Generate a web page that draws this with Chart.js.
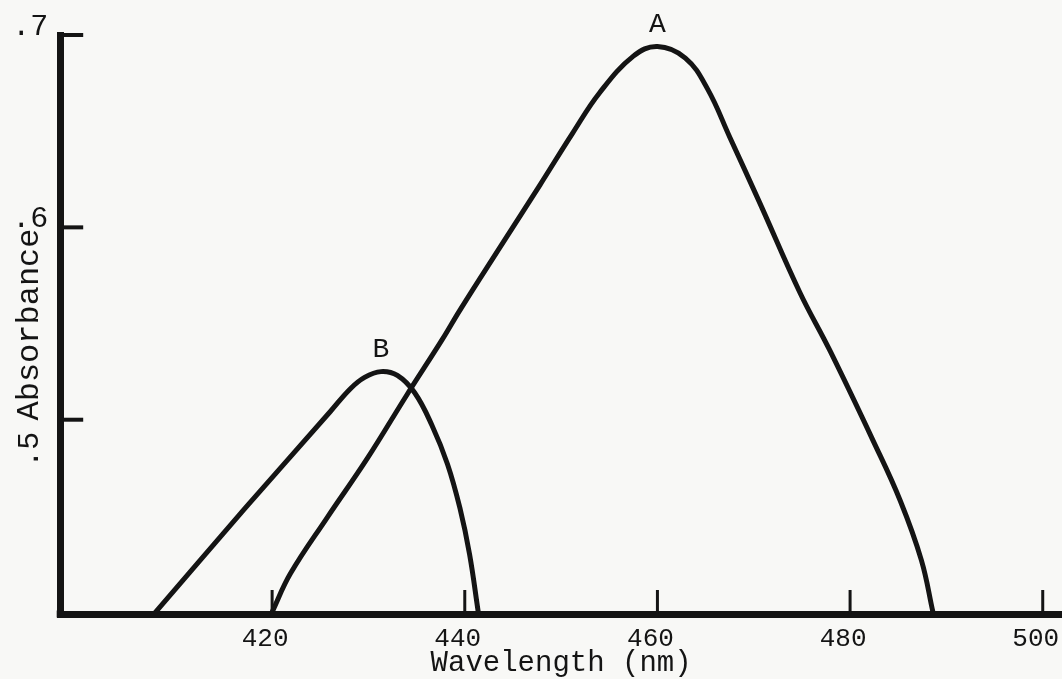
<!DOCTYPE html>
<html>
<head>
<meta charset="utf-8">
<title>Absorbance spectra A and B</title>
<script src="https://cdn.jsdelivr.net/npm/chart.js@4.4.1/dist/chart.umd.min.js"></script>
<style>
  html, body { margin: 0; padding: 0; background: #f8f8f6; }
  #wrap { width: 1062px; height: 679px; }
</style>
</head>
<body>
<div id="wrap"><canvas id="spectra"></canvas></div>
<script>
// Wavelength (nm) / absorbance pairs along each trace
const wavelengthA = [420.0, 421.9, 425.7, 429.9, 434.0, 437.7, 439.5, 443.7, 447.8, 451.2, 454.0, 457.5, 460.0,
                     462.9, 465.2, 467.5, 470.6, 474.8, 477.9, 482.4, 485.2, 487.4, 488.6];
const absorbanceA = [0.400, 0.420, 0.449, 0.480, 0.513, 0.542, 0.557, 0.590, 0.622, 0.649, 0.670, 0.689, 0.694,
                     0.688, 0.672, 0.647, 0.613, 0.566, 0.536, 0.489, 0.458, 0.427, 0.400];

const wavelengthB = [407.9, 417.2, 426.0, 428.1, 429.6, 431.3, 433.0, 434.8, 436.6, 438.2, 439.5, 440.5, 441.4];
const absorbanceB = [0.400, 0.454, 0.504, 0.516, 0.522, 0.525, 0.523, 0.514, 0.497, 0.477, 0.454, 0.430, 0.400];

const xTicks = [420, 440, 460, 480, 500];
const yTicks = [0.5, 0.6, 0.7];
const yTickText = ['.5', '.6', '.7'];

const INK = '#141414';
const PAPER = '#f8f8f6';
const TYPE = '"Liberation Mono", "DejaVu Sans Mono", monospace';

const toPoints = (xs, ys) => xs.map((x, i) => ({ x, y: ys[i] }));

// paper fill, inward tick marks, y labels and the peak tags
const typedMarks = {
  id: 'typedMarks',
  beforeDraw(chart) {
    const { ctx, width, height } = chart;
    ctx.save();
    ctx.fillStyle = PAPER;
    ctx.fillRect(0, 0, width, height);
    ctx.restore();
  },
  afterDraw(chart) {
    const { ctx, chartArea } = chart;
    const xs = chart.scales.x;
    const ys = chart.scales.y;
    ctx.save();
    ctx.strokeStyle = INK;
    ctx.fillStyle = INK;

    // x ticks stand up from the axis
    ctx.lineWidth = 3;
    xTicks.forEach(v => {
      const px = xs.getPixelForValue(v);
      ctx.beginPath();
      ctx.moveTo(px, chartArea.bottom);
      ctx.lineTo(px, chartArea.bottom - 24);
      ctx.stroke();
    });

    // y ticks point right, into the plot
    ctx.lineWidth = 4;
    yTicks.forEach(v => {
      const py = ys.getPixelForValue(v);
      ctx.beginPath();
      ctx.moveTo(chartArea.left, py);
      ctx.lineTo(chartArea.left + 23, py);
      ctx.stroke();
    });

    // fill the corner where the two axis lines meet
    ctx.fillRect(chartArea.left - 3.5, chartArea.bottom - 3.5, 7, 7);

    // y labels; the lowest one is typed sideways, like the title
    ctx.font = '30px ' + TYPE;
    ctx.textAlign = 'center';
    ctx.textBaseline = 'middle';
    const lx = chartArea.left - 30;
    yTicks.forEach((v, i) => {
      const py = ys.getPixelForValue(v);
      if (i === 0) {
        ctx.save();
        ctx.translate(lx, py + 30);
        ctx.rotate(-Math.PI / 2);
        ctx.fillText(yTickText[i], 0, 0);
        ctx.restore();
      } else {
        ctx.fillText(yTickText[i], lx, py - 8);
      }
    });

    // tag each curve just above its highest point
    ctx.font = '28px ' + TYPE;
    chart.data.datasets.forEach(ds => {
      const top = ds.data.reduce((a, b) => (b.y > a.y ? b : a));
      ctx.fillText(ds.label, xs.getPixelForValue(top.x), ys.getPixelForValue(top.y) - 22);
    });
    ctx.restore();
  }
};

new Chart(document.getElementById('spectra'), {
  type: 'line',
  data: {
    datasets: [
      { label: 'A', data: toPoints(wavelengthA, absorbanceA) },
      { label: 'B', data: toPoints(wavelengthB, absorbanceB) }
    ]
  },
  options: {
    responsive: true,
    maintainAspectRatio: false,
    animation: false,
    layout: { padding: { left: 8, top: 35, right: 0, bottom: 1 } },
    elements: {
      line: {
        borderColor: INK,
        borderWidth: 5,
        tension: 0.4,
        borderCapStyle: 'round',
        borderJoinStyle: 'round',
        fill: false
      },
      point: { radius: 0, hoverRadius: 0 }
    },
    plugins: { legend: { display: false }, tooltip: { enabled: false } },
    scales: {
      x: {
        type: 'linear',
        min: 398,
        max: 502,
        afterBuildTicks: s => { s.ticks = xTicks.map(value => ({ value })); },
        afterFit: s => { s.paddingLeft = 0; s.paddingRight = 0; },
        grid: { display: false, drawTicks: false },
        border: { display: true, color: INK, width: 7 },
        ticks: {
          color: INK,
          font: { family: TYPE, size: 26, lineHeight: 1 },
          padding: 12,
          labelOffset: -7,
          maxRotation: 0,
          autoSkip: false
        },
        title: {
          display: true,
          text: 'Wavelength (nm)',
          color: INK,
          font: { family: TYPE, size: 29, lineHeight: 1 },
          padding: { top: -15, bottom: 0 }
        }
      },
      y: {
        min: 0.399,
        max: 0.7,
        afterBuildTicks: s => { s.ticks = yTicks.map(value => ({ value })); },
        grid: { display: false, drawTicks: false },
        border: { display: true, color: INK, width: 7 },
        ticks: { display: false },
        title: {
          display: true,
          text: 'Absorbance',
          color: INK,
          font: { family: TYPE, size: 32, lineHeight: 1.1 },
          padding: { top: 4, bottom: 13 }
        }
      }
    }
  },
  plugins: [typedMarks]
});
</script>
</body>
</html>
